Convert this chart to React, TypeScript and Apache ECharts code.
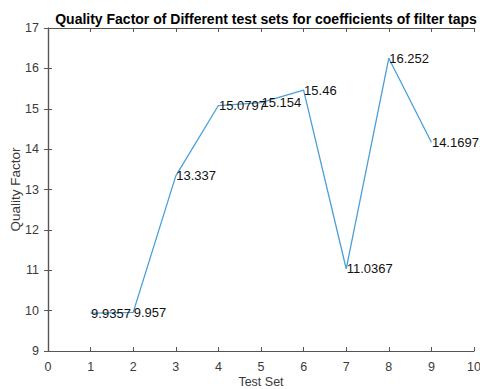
import React, { useEffect, useRef } from "react";
import * as echarts from "echarts";

const testSets = [1, 2, 3, 4, 5, 6, 7, 8, 9];
const qualityFactors = [9.9357, 9.957, 13.337, 15.0797, 15.154, 15.46, 11.0367, 16.252, 14.1697];
const labels = ["9.9357", "9.957", "13.337", "15.0797", "15.154", "15.46", "11.0367", "16.252", "14.1697"];

const FONT = "'Liberation Sans', Arial, Helvetica, sans-serif";
const AXIS_COLOR = "#3a3a3a";

export default function App() {
  const ref = useRef<HTMLDivElement>(null);
  useEffect(() => {
    if (!ref.current) return;
    const chart = echarts.init(ref.current, undefined, { renderer: "svg" });
    const data = testSets.map((x, i) => ({ value: [x, qualityFactors[i]], label: { formatter: labels[i] } }));
    const axisLine = { show: true, lineStyle: { color: "#555", width: 1.2 } };
    const axisTick = { show: true, inside: true, length: 4, lineStyle: { color: "#555" } };
    chart.setOption({
      animation: false,
      backgroundColor: "#fff",
      title: {
        text: "Quality Factor of Different test sets for coefficients of filter taps",
        left: 261,
        textAlign: "center",
        top: 7,
        textStyle: { fontFamily: FONT, fontSize: 14, fontWeight: "bold", color: "#000" },
      },
      grid: { left: 48, right: 6, top: 28, bottom: 38, outerBoundsMode: "none", containLabel: false },
      xAxis: [
        {
          type: "value",
          min: 0,
          max: 10,
          interval: 1,
          name: "Test Set",
          nameLocation: "middle",
          nameGap: 25,
          nameMoveOverlap: false,
          nameTextStyle: { fontFamily: FONT, fontSize: 12.5, lineHeight: 12, color: AXIS_COLOR },
          axisLine,
          axisTick,
          axisLabel: { fontFamily: FONT, fontSize: 12.5, color: AXIS_COLOR, margin: 9 },
          splitLine: { show: false },
        },
        {
          type: "value",
          position: "top",
          min: 0,
          max: 10,
          interval: 1,
          axisLine,
          axisTick,
          axisLabel: { show: false },
          splitLine: { show: false },
        },
      ],
      yAxis: [
        {
          type: "value",
          min: 9,
          max: 17,
          interval: 1,
          name: "Quality Factor",
          nameLocation: "middle",
          nameGap: 26,
          nameMoveOverlap: false,
          nameTextStyle: { fontFamily: FONT, fontSize: 13.5, color: AXIS_COLOR },
          axisLine,
          axisTick,
          axisLabel: { fontFamily: FONT, fontSize: 12.5, color: AXIS_COLOR, margin: 9 },
          splitLine: { show: false },
        },
        {
          type: "value",
          position: "right",
          min: 9,
          max: 17,
          interval: 1,
          axisLine,
          axisTick,
          axisLabel: { show: false },
          splitLine: { show: false },
        },
      ],
      series: [
        {
          type: "line",
          data,
          symbol: "circle",
          symbolSize: 1,
          showSymbol: true,
          itemStyle: { color: "rgba(0,0,0,0)", borderWidth: 0 },
          lineStyle: { color: "#4a9fd8", width: 1.3 },
          label: {
            show: true,
            position: "right",
            distance: 0,
            fontFamily: FONT,
            fontSize: 13,
            color: "#111",
          },
          labelLayout: { hideOverlap: false },
        },
      ],
    });
    return () => chart.dispose();
  }, []);
  return <div ref={ref} style={{ position: "absolute", left: 0, top: 0, width: 480, height: 389 }} />;
}
